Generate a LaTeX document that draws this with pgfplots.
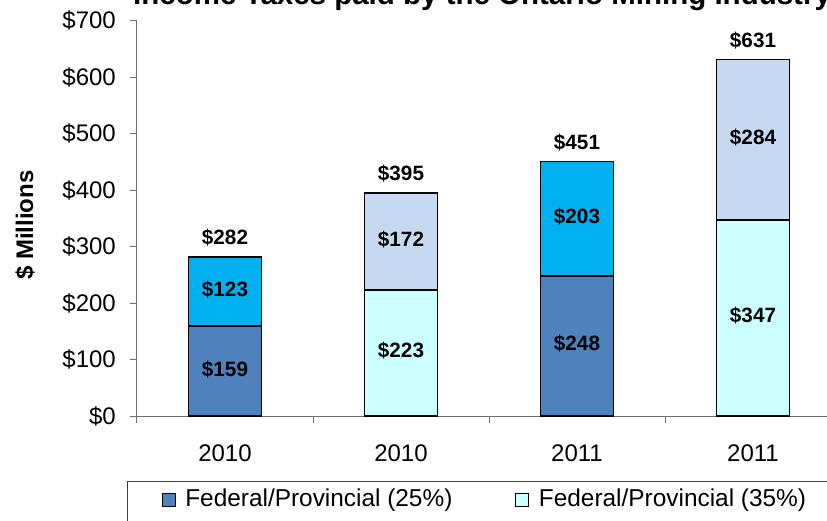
\documentclass[border=0pt]{standalone}
\usepackage{pgfplots}
\pgfplotsset{compat=1.18}
\usepackage{fontspec}
\setmainfont{Liberation Sans}
\definecolor{cdark}{HTML}{4F81BD}
\definecolor{clcyan}{HTML}{CCFFFF}
\definecolor{ccyan}{HTML}{00B0F0}
\definecolor{clblue}{HTML}{C6D9F1}
\definecolor{axgray}{HTML}{6F6F6F}
\pgfplotsset{
  basegeom/.style={
    scale only axis, width=704pt, height=395.3pt,
    xmin=-0.5, xmax=3.5, ymin=0, ymax=700,
    at={(0pt,0pt)}, anchor=south west, enlargelimits=false,
  },
  legA/.style={legend image code/.code={\path (-11pt,0pt); \draw[##1, line width=1pt] (0pt,0pt) rectangle (13pt,13pt);}},
  legB/.style={legend image code/.code={\draw[##1, line width=1pt] (0pt,0pt) rectangle (13pt,13pt);}},
}
\begin{document}
\begin{tikzpicture}
\useasboundingbox (-137pt,-104pt) rectangle (690pt,416pt);
\clip (-137pt,-104pt) rectangle (690pt,416pt);
\begin{axis}[basegeom,
  ybar stacked, bar width=73pt,
  axis x line=bottom, axis y line=left,
  axis line style={-, draw=axgray, line width=1pt},
  xtick={0,1,2,3}, xticklabels={2010,2010,2011,2011},
  minor xtick={-0.5,0.5,1.5,2.5,3.5},
  ytick={0,100,...,700},
  yticklabel={\$\pgfmathprintnumber{\tick}},
  /pgf/number format/assume math mode=true,
  tick align=outside,
  major tick length=7pt, minor tick length=7pt,
  tick style={draw=axgray, line width=1pt},
  major x tick style={draw=none},
  tick label style={font=\fontsize{24}{28}\selectfont},
  yticklabel style={anchor=east, inner sep=0pt, xshift=-14pt},
  xticklabel style={anchor=base, inner sep=0pt, yshift=-38pt},
  title={Income Taxes paid by the Ontario Mining Industry},
  title style={at={(axis description cs:-0.0057,1.0265)}, anchor=base west,
    font=\bfseries\fontsize{29.5}{34}\selectfont, inner sep=0pt},
  ylabel={\$ Millions},
  ylabel style={at={(axis description cs:-0.159,0.483)}, anchor=center,
    font=\bfseries\fontsize{24}{28}\selectfont},
  legend columns=2,
  legend style={at={(axis description cs:-0.0142,-0.1644)}, anchor=north west,
    draw=black!75, line width=1pt, inner xsep=23pt, inner ysep=7pt,
    font=\fontsize{24.4}{28}\selectfont,
    cells={anchor=base west},
    nodes={inner sep=0pt, text depth=14pt},
    /tikz/every odd column/.append style={column sep=9.5pt},
    /tikz/every even column/.append style={column sep=63pt}},
]
\addplot[fill=cdark, draw=black, line width=1.6pt, legA]
  coordinates {(0,159) (1,0) (2,248) (3,0)};
\addplot[fill=clcyan, draw=black, line width=1.6pt, legB]
  coordinates {(0,0) (1,223) (2,0) (3,347)};
\addplot[fill=ccyan, draw=black, line width=1.6pt]
  coordinates {(0,123) (1,0) (2,203) (3,0)};
\addplot[fill=clblue, draw=black, line width=1.6pt]
  coordinates {(0,0) (1,172) (2,0) (3,284)};
\legend{Federal/Provincial (25\%), Federal/Provincial (35\%)}
\end{axis}
\begin{axis}[basegeom, hide axis, clip=false]
\addplot[draw=none, mark=none, nodes near coords, point meta=explicit symbolic,
  every node near coord/.append style={font=\bfseries\fontsize{20.7}{24}\selectfont, anchor=center, inner sep=0pt, yshift=2pt}]
  coordinates {(0,79.5) [\$159] (0,220.5) [\$123] (1,111.5) [\$223] (1,309) [\$172]
               (2,124) [\$248] (2,349.5) [\$203] (3,173.5) [\$347] (3,489) [\$284]};
\addplot[draw=none, mark=none, nodes near coords, point meta=explicit symbolic,
  every node near coord/.append style={font=\bfseries\fontsize{20.7}{24}\selectfont, anchor=center, inner sep=0pt, yshift=19pt}]
  coordinates {(0,282) [\$282] (1,395) [\$395] (2,451) [\$451] (3,631) [\$631]};
\end{axis}
\end{tikzpicture}
\end{document}
